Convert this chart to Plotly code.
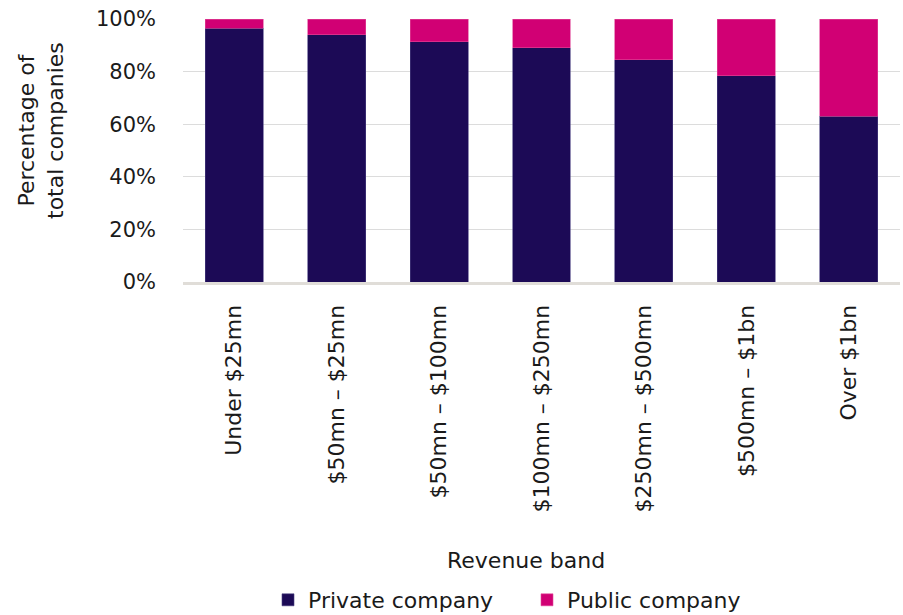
import plotly.graph_objects as go

# Revenue bands and share of companies in each (percent)
bands = [
    "Under $25mn",
    "$50mn – $25mn",
    "$50mn – $100mn",
    "$100mn – $250mn",
    "$250mn – $500mn",
    "$500mn – $1bn",
    "Over $1bn",
]
private_pct = [96.4, 94.0, 91.3, 89.0, 84.5, 78.4, 63.0]
public_pct = [3.6, 6.0, 8.7, 11.0, 15.5, 21.6, 37.0]

y_ticks = [0, 20, 40, 60, 80, 100]
y_tick_text = ["0%", "20%", "40%", "60%", "80%", "100%"]

FONT = "DejaVu Sans"
TEXT = "#1a1a1a"

PLOT_L, PLOT_R, PLOT_T, PLOT_B = 183, 900, 19, 282
PW, PH = PLOT_R - PLOT_L, PLOT_B - PLOT_T

fig = go.Figure()
fig.add_trace(go.Bar(
    x=bands, y=private_pct, name="Private company",
    marker=dict(color="#1c0a56", line=dict(color="#4a3f80", width=0.6)),
))
fig.add_trace(go.Bar(
    x=bands, y=public_pct, name="Public company",
    marker=dict(color="#d10074", line=dict(color="#e04a9a", width=0.6)),
))

fig.update_layout(
    barmode="stack",
    bargap=0.434,
    width=903, height=615,
    margin=dict(l=PLOT_L, r=903 - PLOT_R, t=PLOT_T, b=615 - PLOT_B, autoexpand=False),
    plot_bgcolor="white", paper_bgcolor="white",
    font=dict(family=FONT, size=21, color=TEXT),
    legend=dict(
        orientation="h", x=(268 - PLOT_L) / PW, xanchor="left",
        y=-(600 - PLOT_B) / PH, yanchor="middle",
        font=dict(size=22), itemwidth=30, traceorder="normal",
        entrywidth=214,
    ),
    xaxis=dict(
        tickangle=-90, showgrid=False, ticks="",
        tickfont=dict(size=22), automargin=False,
        showline=True, linecolor="#e0ddd8", linewidth=3,
        ticklabelstandoff=11,
    ),
    yaxis=dict(
        range=[0, 100], tickvals=y_ticks, ticktext=y_tick_text,
        showgrid=True, gridcolor="#dcdcdc", gridwidth=1, automargin=False,
        zeroline=False, ticks="", ticklabelstandoff=26,
    ),
    annotations=[
        dict(
            text="Percentage of<br>total companies",
            textangle=-90, showarrow=False,
            xref="paper", yref="paper",
            x=(41 - PLOT_L) / PW, y=(PLOT_B - 131) / PH,
            xanchor="center", yanchor="middle",
            font=dict(size=22, color=TEXT),
        ),
        dict(
            text="Revenue band", showarrow=False,
            xref="paper", yref="paper",
            x=(526 - PLOT_L) / PW, y=-(560 - PLOT_B) / PH,
            xanchor="center", yanchor="middle",
            font=dict(size=22, color=TEXT),
        ),
    ],
)

fig.write_html("out.html")
